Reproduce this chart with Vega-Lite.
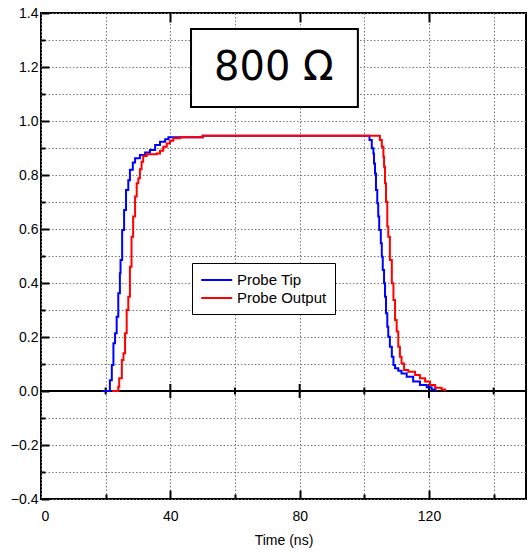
{
  "$schema": "https://vega.github.io/schema/vega-lite/v6.json",
  "width": 485,
  "height": 486,
  "autosize": {"type": "none"},
  "padding": {"left": 41, "top": 13, "right": 3, "bottom": 54},
  "background": "white",
  "resolve": {"axis": {"x": "independent", "y": "independent"}},
  "config": {
    "view": {"stroke": "#000", "strokeWidth": 2},
    "axis": {"labelFont": "Liberation Sans", "labelFontSize": 14, "labelColor": "#000", "titleFont": "Liberation Sans", "titleFontSize": 14, "titleFontWeight": "normal", "titleColor": "#000", "domain": false, "tickColor": "#000", "tickWidth": 2, "gridColor": "#777", "gridDash": [1.5, 2], "gridWidth": 1, "zindex": 1}
  },
  "datasets": {
    "traces": [
      {"t": 19, "v": 0, "s": "Probe Tip"},
      {"t": 21.3, "v": 0.04, "s": "Probe Tip"},
      {"t": 21.9, "v": 0.096, "s": "Probe Tip"},
      {"t": 22.4, "v": 0.177, "s": "Probe Tip"},
      {"t": 22.9, "v": 0.214, "s": "Probe Tip"},
      {"t": 23.4, "v": 0.275, "s": "Probe Tip"},
      {"t": 23.9, "v": 0.362, "s": "Probe Tip"},
      {"t": 24.4, "v": 0.436, "s": "Probe Tip"},
      {"t": 24.6, "v": 0.485, "s": "Probe Tip"},
      {"t": 25.1, "v": 0.596, "s": "Probe Tip"},
      {"t": 25.7, "v": 0.67, "s": "Probe Tip"},
      {"t": 26.3, "v": 0.744, "s": "Probe Tip"},
      {"t": 27.0, "v": 0.781, "s": "Probe Tip"},
      {"t": 27.5, "v": 0.819, "s": "Probe Tip"},
      {"t": 28.4, "v": 0.846, "s": "Probe Tip"},
      {"t": 29.1, "v": 0.862, "s": "Probe Tip"},
      {"t": 30.6, "v": 0.874, "s": "Probe Tip"},
      {"t": 32.2, "v": 0.883, "s": "Probe Tip"},
      {"t": 33.7, "v": 0.893, "s": "Probe Tip"},
      {"t": 35.3, "v": 0.911, "s": "Probe Tip"},
      {"t": 36.8, "v": 0.923, "s": "Probe Tip"},
      {"t": 38.4, "v": 0.932, "s": "Probe Tip"},
      {"t": 39.4, "v": 0.94, "s": "Probe Tip"},
      {"t": 50.0, "v": 0.945, "s": "Probe Tip"},
      {"t": 101.6, "v": 0.93, "s": "Probe Tip"},
      {"t": 102.3, "v": 0.899, "s": "Probe Tip"},
      {"t": 102.8, "v": 0.88, "s": "Probe Tip"},
      {"t": 103.0, "v": 0.843, "s": "Probe Tip"},
      {"t": 103.3, "v": 0.806, "s": "Probe Tip"},
      {"t": 103.6, "v": 0.744, "s": "Probe Tip"},
      {"t": 104.0, "v": 0.695, "s": "Probe Tip"},
      {"t": 104.3, "v": 0.646, "s": "Probe Tip"},
      {"t": 104.6, "v": 0.596, "s": "Probe Tip"},
      {"t": 105.1, "v": 0.547, "s": "Probe Tip"},
      {"t": 105.4, "v": 0.497, "s": "Probe Tip"},
      {"t": 105.7, "v": 0.448, "s": "Probe Tip"},
      {"t": 106.1, "v": 0.399, "s": "Probe Tip"},
      {"t": 106.4, "v": 0.349, "s": "Probe Tip"},
      {"t": 106.7, "v": 0.288, "s": "Probe Tip"},
      {"t": 107.1, "v": 0.238, "s": "Probe Tip"},
      {"t": 107.4, "v": 0.201, "s": "Probe Tip"},
      {"t": 107.9, "v": 0.164, "s": "Probe Tip"},
      {"t": 108.5, "v": 0.127, "s": "Probe Tip"},
      {"t": 109.0, "v": 0.096, "s": "Probe Tip"},
      {"t": 109.5, "v": 0.084, "s": "Probe Tip"},
      {"t": 110.5, "v": 0.075, "s": "Probe Tip"},
      {"t": 111.5, "v": 0.065, "s": "Probe Tip"},
      {"t": 113.1, "v": 0.053, "s": "Probe Tip"},
      {"t": 115.1, "v": 0.035, "s": "Probe Tip"},
      {"t": 117.2, "v": 0.022, "s": "Probe Tip"},
      {"t": 119.3, "v": 0.014, "s": "Probe Tip"},
      {"t": 120.8, "v": 0.006, "s": "Probe Tip"},
      {"t": 122.0, "v": 0, "s": "Probe Tip"},
      {"t": 22, "v": 0, "s": "Probe Output"},
      {"t": 23.9, "v": 0.016, "s": "Probe Output"},
      {"t": 24.2, "v": 0.047, "s": "Probe Output"},
      {"t": 25.0, "v": 0.115, "s": "Probe Output"},
      {"t": 25.5, "v": 0.14, "s": "Probe Output"},
      {"t": 26.0, "v": 0.214, "s": "Probe Output"},
      {"t": 26.5, "v": 0.3, "s": "Probe Output"},
      {"t": 27.0, "v": 0.349, "s": "Probe Output"},
      {"t": 27.5, "v": 0.46, "s": "Probe Output"},
      {"t": 28.0, "v": 0.571, "s": "Probe Output"},
      {"t": 28.5, "v": 0.646, "s": "Probe Output"},
      {"t": 29.1, "v": 0.72, "s": "Probe Output"},
      {"t": 29.6, "v": 0.769, "s": "Probe Output"},
      {"t": 30.1, "v": 0.788, "s": "Probe Output"},
      {"t": 30.6, "v": 0.821, "s": "Probe Output"},
      {"t": 31.1, "v": 0.849, "s": "Probe Output"},
      {"t": 31.6, "v": 0.87, "s": "Probe Output"},
      {"t": 32.7, "v": 0.877, "s": "Probe Output"},
      {"t": 35.8, "v": 0.88, "s": "Probe Output"},
      {"t": 36.8, "v": 0.89, "s": "Probe Output"},
      {"t": 37.8, "v": 0.905, "s": "Probe Output"},
      {"t": 38.9, "v": 0.917, "s": "Probe Output"},
      {"t": 39.9, "v": 0.927, "s": "Probe Output"},
      {"t": 40.9, "v": 0.936, "s": "Probe Output"},
      {"t": 43.0, "v": 0.94, "s": "Probe Output"},
      {"t": 50.0, "v": 0.945, "s": "Probe Output"},
      {"t": 104.8, "v": 0.93, "s": "Probe Output"},
      {"t": 105.4, "v": 0.905, "s": "Probe Output"},
      {"t": 105.9, "v": 0.868, "s": "Probe Output"},
      {"t": 106.1, "v": 0.831, "s": "Probe Output"},
      {"t": 106.4, "v": 0.769, "s": "Probe Output"},
      {"t": 106.7, "v": 0.701, "s": "Probe Output"},
      {"t": 107.1, "v": 0.609, "s": "Probe Output"},
      {"t": 107.4, "v": 0.571, "s": "Probe Output"},
      {"t": 107.9, "v": 0.485, "s": "Probe Output"},
      {"t": 108.5, "v": 0.399, "s": "Probe Output"},
      {"t": 109.0, "v": 0.337, "s": "Probe Output"},
      {"t": 109.5, "v": 0.263, "s": "Probe Output"},
      {"t": 110.0, "v": 0.22, "s": "Probe Output"},
      {"t": 110.5, "v": 0.164, "s": "Probe Output"},
      {"t": 111.0, "v": 0.127, "s": "Probe Output"},
      {"t": 111.5, "v": 0.102, "s": "Probe Output"},
      {"t": 112.3, "v": 0.078, "s": "Probe Output"},
      {"t": 113.6, "v": 0.071, "s": "Probe Output"},
      {"t": 115.7, "v": 0.059, "s": "Probe Output"},
      {"t": 117.2, "v": 0.047, "s": "Probe Output"},
      {"t": 118.8, "v": 0.035, "s": "Probe Output"},
      {"t": 120.3, "v": 0.022, "s": "Probe Output"},
      {"t": 121.9, "v": 0.012, "s": "Probe Output"},
      {"t": 123.9, "v": 0.006, "s": "Probe Output"},
      {"t": 125.0, "v": 0, "s": "Probe Output"}
    ],
    "zeroTicks": [
      {"t": 20, "lo": -0.013, "hi": 0.013},
      {"t": 40, "lo": -0.026, "hi": 0.026},
      {"t": 60, "lo": -0.013, "hi": 0.013},
      {"t": 80, "lo": -0.026, "hi": 0.026},
      {"t": 100, "lo": -0.013, "hi": 0.013},
      {"t": 120, "lo": -0.026, "hi": 0.026},
      {"t": 140, "lo": -0.013, "hi": 0.013}
    ],
    "box": [{"x1": 46.4, "x2": 98.0, "y1": 1.052, "y2": 1.341, "label": "800 Ω", "cx": 72, "cy": 1.196}]
  },
  "layer": [
    {
      "data": {"values": [{"zero": 0}]},
      "mark": {"type": "rule", "color": "#000", "strokeWidth": 2},
      "encoding": {"y": {"field": "zero", "type": "quantitative", "scale": {"domain": [-0.4, 1.4], "nice": false},
        "axis": {"orient": "left", "title": null, "labels": false, "grid": false, "ticks": true,
          "values": [-0.4, -0.2, 0, 0.2, 0.4, 0.6, 0.8, 1.0, 1.2, 1.4], "offset": -8, "tickSize": 8}}}
    },
    {
      "data": {"name": "zeroTicks"},
      "mark": {"type": "rule", "color": "#000", "strokeWidth": 2},
      "encoding": {
        "x": {"field": "t", "type": "quantitative", "scale": {"domain": [0, 150], "nice": false},
          "axis": {"orient": "top", "title": null, "labels": false, "grid": false, "ticks": true,
            "values": [40, 80, 120], "offset": -9, "tickSize": 9}},
        "y": {"field": "lo", "type": "quantitative",
          "axis": {"orient": "left", "title": null, "labels": false, "grid": false, "ticks": true,
            "values": [-0.3, -0.1, 0.1, 0.3, 0.5, 0.7, 0.9, 1.1, 1.3], "offset": -4, "tickSize": 4}},
        "y2": {"field": "hi"}
      }
    },
    {
      "data": {"name": "traces"},
      "mark": {"type": "line", "interpolate": "step-after", "strokeWidth": 2},
      "encoding": {
        "x": {"field": "t", "type": "quantitative",
          "axis": {"orient": "bottom", "title": "Time (ns)", "grid": true, "ticks": false, "titlePadding": 10,
            "values": [0, 20, 40, 60, 80, 100, 120, 140],
            "labelExpr": "datum.value % 40 === 0 ? datum.label : ''",
            "labelPadding": 10}},
        "y": {"field": "v", "type": "quantitative",
          "axis": {"orient": "left", "title": null, "grid": true, "ticks": false,
            "values": [-0.4, -0.3, -0.2, -0.1, 0, 0.1, 0.2, 0.3, 0.4, 0.5, 0.6, 0.7, 0.8, 0.9, 1.0, 1.1, 1.2, 1.3, 1.4],
            "labelExpr": "abs(round(datum.value*10)) % 2 === 0 ? format(datum.value, '.1f') : ''",
            "labelPadding": 3}},
        "color": {"field": "s", "type": "nominal", "sort": ["Probe Tip", "Probe Output"],
          "scale": {"domain": ["Probe Tip", "Probe Output"], "range": ["#0000ff", "#ff0000"]},
          "legend": {"orient": "none", "legendX": 151, "legendY": 250, "title": null,
            "symbolType": "M-1,0H3", "symbolSize": 240, "symbolStrokeWidth": 2,
            "labelFont": "Liberation Sans", "labelFontSize": 15, "labelColor": "#000", "labelOffset": 19,
            "padding": 8, "rowPadding": 1, "strokeColor": "#000", "fillColor": "#fff"}}
      }
    },
    {
      "data": {"name": "box"},
      "mark": {"type": "rect", "fill": "#fff", "stroke": "#000", "strokeWidth": 2},
      "encoding": {
        "x": {"field": "x1", "type": "quantitative",
          "axis": {"orient": "bottom", "title": null, "labels": false, "grid": false, "ticks": true,
            "values": [20, 60, 100, 140], "offset": -5, "tickSize": 5}},
        "x2": {"field": "x2"},
        "y": {"field": "y1", "type": "quantitative", "axis": null},
        "y2": {"field": "y2"}
      }
    },
    {
      "data": {"name": "box"},
      "mark": {"type": "text", "font": "DejaVu Sans", "fontSize": 40, "color": "#000", "align": "center", "baseline": "middle"},
      "encoding": {
        "x": {"field": "cx", "type": "quantitative",
          "axis": {"orient": "bottom", "title": null, "labels": false, "grid": false, "ticks": true,
            "values": [40, 80, 120], "offset": -9, "tickSize": 9}},
        "y": {"field": "cy", "type": "quantitative", "axis": null},
        "text": {"field": "label"}
      }
    }
  ]
}
